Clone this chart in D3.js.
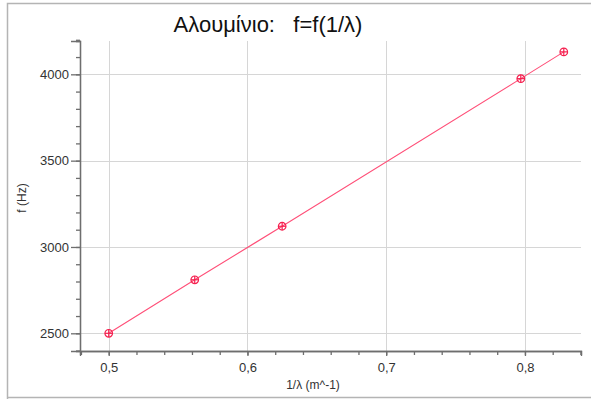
<!DOCTYPE html>
<html>
<head>
<meta charset="utf-8">
<script src="https://cdn.jsdelivr.net/npm/d3@7"></script>
<style>
  html, body { margin: 0; padding: 0; background: #fff; }
  svg { display: block; font-family: Arial, "Liberation Sans", sans-serif; }
</style>
</head>
<body>
<svg id="chart" width="591" height="399"></svg>
<script>
// Measurements: inverse wavelength vs frequency (aluminium rod)
const invLambda = [0.5, 0.562, 0.625, 0.797, 0.828];
const freq = [2500, 2810, 3120, 3975, 4130];

const xMajorTicks = [0.5, 0.6, 0.7, 0.8];
const xTickLabels = ["0,5", "0,6", "0,7", "0,8"];
const yMajorTicks = [2500, 3000, 3500, 4000];
const yTickLabels = ["2500", "3000", "3500", "4000"];

const titleText = "Αλουμίνιο:   f=f(1/λ)";
const xLabel = "1/λ (m^-1)";
const yLabel = "f (Hz)";

const svg = d3.select("#chart");
const W = 591, H = 399;
const plot = { left: 80, right: 581, top: 41, bottom: 351 };

// outer frame
svg.append("path")
  .attr("d", `M7.5,${H + 2} L7.5,3.5 L${W + 2},3.5 M7.5,397.5 L${W + 2},397.5`)
  .attr("fill", "none").attr("stroke", "#b4b4b4").attr("stroke-width", 1.5);

const x = d3.scaleLinear().domain([0.4793, 0.8404]).range([plot.left, plot.right]);
const y = d3.scaleLinear().domain([2397.5, 4193]).range([plot.bottom, plot.top]);

// grid
const grid = svg.append("g").attr("stroke", "#d6d6d6").attr("stroke-width", 1);
grid.selectAll("line.vx").data(xMajorTicks).join("line")
  .attr("x1", d => Math.round(x(d)) + 0.5).attr("x2", d => Math.round(x(d)) + 0.5)
  .attr("y1", plot.top).attr("y2", plot.bottom);
grid.selectAll("line.hy").data(yMajorTicks).join("line")
  .attr("y1", d => Math.round(y(d)) + 0.5).attr("y2", d => Math.round(y(d)) + 0.5)
  .attr("x1", plot.left).attr("x2", plot.right);

// axes
const axisColor = "#6e6e6e";
const xMinor = d3.range(0.48, 0.841, 0.02);
const yMinor = d3.range(2400, 4201, 100);

const xAxisMinor = d3.axisBottom(x).tickValues(xMinor).tickSize(4).tickFormat("");
const xAxisMajor = d3.axisBottom(x).tickValues(xMajorTicks).tickSize(5)
  .tickFormat((d, i) => xTickLabels[i]).tickPadding(7);
const yAxisMinor = d3.axisLeft(y).tickValues(yMinor).tickSize(4).tickFormat("");
const yAxisMajor = d3.axisLeft(y).tickValues(yMajorTicks).tickSize(9)
  .tickFormat((d, i) => yTickLabels[i]).tickPadding(2);

function styleAxis(g) {
  g.selectAll("path.domain").attr("stroke", axisColor).attr("stroke-width", 1.3);
  g.selectAll(".tick line").attr("stroke", axisColor).attr("stroke-width", 1.3);
  g.selectAll(".tick text").attr("fill", "#333").style("font-size", "13px")
    .style("font-family", "Arial, 'Liberation Sans', sans-serif");
}

svg.append("g").attr("transform", `translate(0,${plot.bottom})`).call(xAxisMinor).call(styleAxis);
svg.append("g").attr("transform", `translate(0,${plot.bottom})`).call(xAxisMajor).call(styleAxis);
svg.append("g").attr("transform", `translate(${plot.left},0)`).call(yAxisMinor).call(styleAxis);
svg.append("g").attr("transform", `translate(${plot.left},0)`).call(yAxisMajor).call(styleAxis);

// series line
const pts = invLambda.map((v, i) => [v, freq[i]]);
const red = "#f5204f";
svg.append("path").datum(pts)
  .attr("d", d3.line().x(d => x(d[0])).y(d => y(d[1])))
  .attr("fill", "none").attr("stroke", "#ff4f78").attr("stroke-width", 1.1);

// markers: circle with cross
const mk = svg.append("g").selectAll("g").data(pts).join("g")
  .attr("transform", d => `translate(${x(d[0])},${y(d[1])})`)
  .attr("stroke", red).attr("stroke-width", 1.2).attr("fill", "none");
mk.append("circle").attr("r", 3.8);
mk.append("line").attr("x1", -3.8).attr("x2", 3.8);
mk.append("line").attr("y1", -3.8).attr("y2", 3.8);

// title and axis labels
svg.append("text").attr("x", 268).attr("y", 32).attr("text-anchor", "middle")
  .style("font-size", "22px").style("white-space", "pre").attr("fill", "#111").text(titleText);
svg.append("text").attr("x", 313).attr("y", 389).attr("text-anchor", "middle")
  .style("font-size", "12px").attr("fill", "#333").text(xLabel);
svg.append("text").attr("transform", "translate(26,198) rotate(-90)")
  .attr("text-anchor", "middle").style("font-size", "12px").attr("fill", "#333").text(yLabel);
</script>
</body>
</html>
